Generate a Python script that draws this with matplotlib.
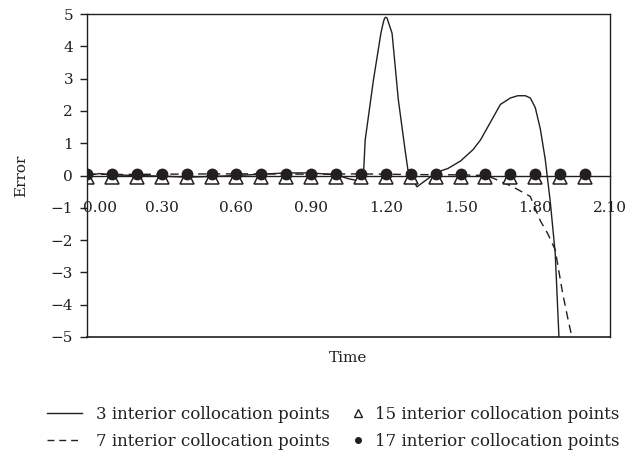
#!/usr/bin/env python3
"""Collocation error vs time, 3/7/15/17 interior collocation points."""
import matplotlib

matplotlib.use("Agg")
import matplotlib.pyplot as plt
from matplotlib.lines import Line2D
from matplotlib.transforms import ScaledTranslation

# 3 interior collocation points (solid)
T3 = [0.00, 0.05, 0.10, 0.20, 0.30, 0.40, 0.50, 0.60, 0.70, 0.80, 0.90, 1.00,
      1.05, 1.08, 1.11, 1.117, 1.15, 1.18, 1.19, 1.195, 1.20, 1.205, 1.21,
      1.225, 1.25, 1.277, 1.29, 1.325, 1.36, 1.405, 1.45, 1.50, 1.55, 1.58,
      1.62, 1.66, 1.70, 1.73, 1.76, 1.78, 1.80, 1.82, 1.84, 1.86, 1.88, 1.895]
E3 = [0.00, 0.06, 0.02, 0.00, -0.02, -0.05, -0.03, 0.00, 0.04, 0.08, 0.08, 0.02,
      -0.10, -0.15, 0.00, 1.10, 2.95, 4.40, 4.75, 4.87, 4.90, 4.87, 4.75,
      4.40, 2.35, 0.80, 0.10, -0.35, -0.15, 0.10, 0.22, 0.45, 0.80, 1.10,
      1.65, 2.20, 2.40, 2.47, 2.47, 2.40, 2.10, 1.45, 0.50, -0.80, -2.40, -5.00]

# 7 interior collocation points (dashed)
T7 = [0.00, 0.10, 0.30, 0.50, 0.70, 0.90, 1.10, 1.30, 1.50, 1.60, 1.63, 1.71,
      1.78, 1.82, 1.85, 1.88, 1.91, 1.93, 1.947]
E7 = [0.05, 0.03, 0.04, 0.05, 0.05, 0.04, 0.05, 0.03, 0.02, 0.00, -0.08, -0.35,
      -0.65, -1.40, -1.80, -2.30, -3.65, -4.40, -5.00]

# 15 / 17 interior collocation points (markers only)
T_MARK = [0.0, 0.1, 0.2, 0.3, 0.4, 0.5, 0.6, 0.7, 0.8, 0.9, 1.0,
          1.1, 1.2, 1.3, 1.4, 1.5, 1.6, 1.7, 1.8, 1.9, 2.0]
E15 = [-0.05] * 21
E17 = [0.06] * 21

X_TICKS = [0.00, 0.30, 0.60, 0.90, 1.20, 1.50, 1.80, 2.10]
Y_TICKS = [-5, -4, -3, -2, -1, 0, 1, 2, 3, 4, 5]

LABELS = ["3 interior collocation points", "7 interior collocation points",
          "15 interior collocation points", "17 interior collocation points"]

INK = "#231f20"


def main():
    plt.rcParams["font.family"] = ["DejaVu Serif"]
    plt.rcParams["text.color"] = INK
    plt.rcParams["axes.labelcolor"] = INK
    plt.rcParams["xtick.color"] = INK
    plt.rcParams["ytick.color"] = INK

    fig = plt.figure(figsize=(6.41, 4.58), dpi=100)
    ax = fig.add_axes([87 / 641, 1 - 337 / 458, 523 / 641, 323 / 458])

    ax.plot(T3, E3, color=INK, lw=1.0, solid_joinstyle="round")
    ax.plot(T7, E7, color=INK, lw=1.0, linestyle=(0, (6, 4)))
    ax.plot(T_MARK, E15, linestyle="none", marker="^", markersize=9.5,
            markerfacecolor="white", markeredgecolor=INK, markeredgewidth=1.1)
    ax.plot(T_MARK, E17, linestyle="none", marker="o", markersize=7.5,
            markerfacecolor=INK, markeredgecolor=INK)

    ax.set_xlim(0, 2.1)
    ax.set_ylim(-5, 5)

    # x axis sits on the zero line
    ax.spines["bottom"].set_position(("data", 0))
    for s in ax.spines.values():
        s.set_color(INK)
        s.set_linewidth(1.0)
    ax.axhline(-5, color=INK, lw=1.2, clip_on=False)

    ax.set_xticks(X_TICKS)
    ax.set_xticklabels([f"{v:.2f}" for v in X_TICKS])
    ax.tick_params(axis="x", length=0, pad=18.5, labelsize=11)
    # first label nudged right, clear of the y tick labels
    first = ax.get_xticklabels()[0]
    first.set_transform(first.get_transform()
                        + ScaledTranslation(0.13, 0, fig.dpi_scale_trans))
    ax.set_yticks(Y_TICKS)
    ax.tick_params(axis="y", direction="out", length=5, width=1.0, pad=5,
                   labelsize=11)

    ax.set_xlabel("Time", fontsize=11)
    ax.xaxis.set_label_coords(0.5, -0.043)
    ax.set_ylabel("Error", fontsize=11)
    ax.yaxis.set_label_coords(-0.113, 0.5)

    left = [Line2D([], [], color=INK, lw=1.0),
            Line2D([], [], color=INK, lw=1.0, linestyle=(0, (5, 3.5)))]
    right = [Line2D([], [], linestyle="none", marker="^", markersize=6,
                    markerfacecolor="white", markeredgecolor=INK,
                    markeredgewidth=1.0),
             Line2D([], [], linestyle="none", marker="o", markersize=4,
                    color=INK)]
    fig.legend(left, LABELS[:2], loc="upper left",
               bbox_to_anchor=(47 / 641, 1 - 406 / 458),
               frameon=False, fontsize=12, borderpad=0,
               borderaxespad=0, handlelength=2.1, handletextpad=0.85,
               labelspacing=0.6)
    fig.legend(right, LABELS[2:], loc="upper left",
               bbox_to_anchor=(350 / 641, 1 - 406 / 458),
               frameon=False, fontsize=12, borderpad=0,
               borderaxespad=0, handlelength=1.0, handletextpad=0.5,
               labelspacing=0.6)

    fig.savefig("out.png", dpi=100)


if __name__ == "__main__":
    main()
